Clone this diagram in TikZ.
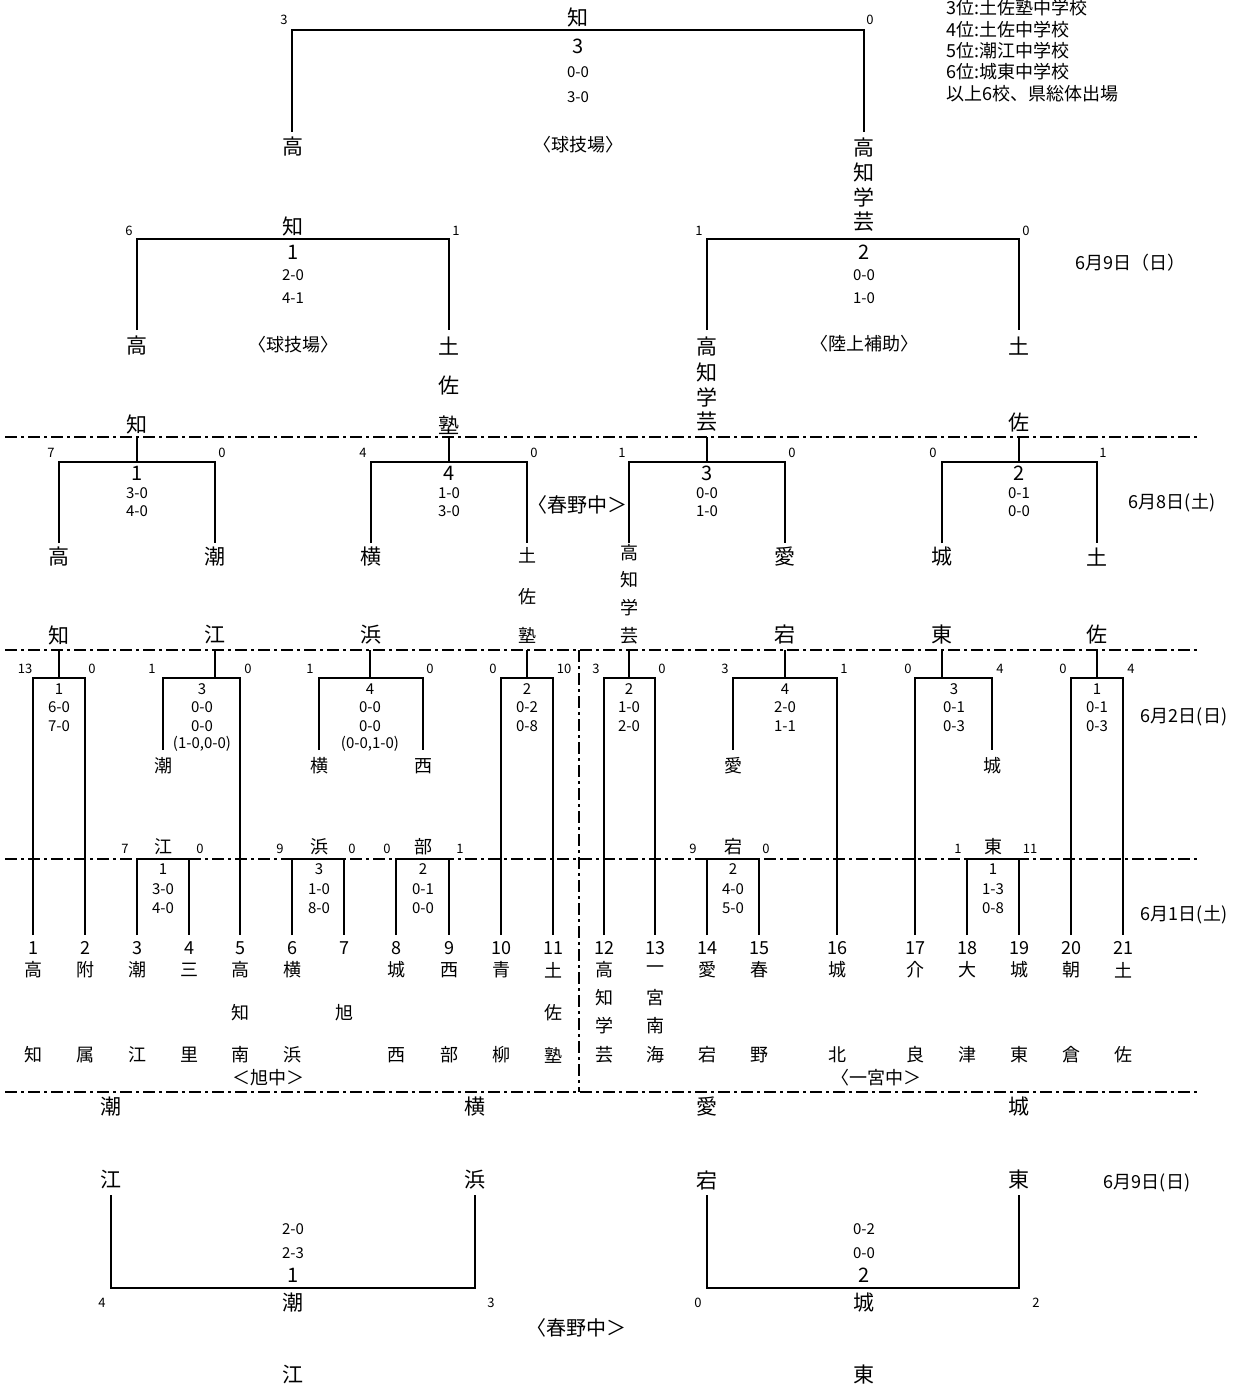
\documentclass[tikz,border=0pt]{standalone}
\usepackage{fontspec}
\setmainfont{Noto Sans CJK JP}
\newcounter{nn}
\newcommand\T[4][]{\stepcounter{nn}\node[#1] (n\thenn) at (#2,#3) {#4};}
\begin{document}
\begin{tikzpicture}[x=1pt,y=-1pt,
  every node/.style={inner sep=0pt},
  fBig/.style={font=\fontsize{21}{21}\selectfont},
  fMid/.style={font=\fontsize{18}{18}\selectfont},
  fSeed/.style={font=\fontsize{13}{13}\selectfont},
  fScore/.style={font=\fontsize{15}{15}\selectfont},
  fNum/.style={font=\fontsize{20}{20}\selectfont},
  fDate/.style={font=\fontsize{18}{18}\selectfont},
  fLeg/.style={font=\fontsize{18}{18}\selectfont,anchor=west},
  br/.style={line width=2.3pt},
  dd/.style={line width=2pt,dash pattern=on 12pt off 4pt on 3pt off 4pt}]
\useasboundingbox (0,0) rectangle (1252,1386);
% ---------- dashed separators ----------
\draw[dd] (5,437) -- (1200,437);
\draw[dd] (5,650) -- (1200,650);
\draw[dd] (5,859) -- (1200,859);
\draw[dd] (5,1092) -- (1200,1092);
\draw[dd] (579,650) -- (579,1092);
% ---------- final ----------
\draw[br] (292,132) -- (292,30) -- (864,30) -- (864,132);
\T[fSeed]{284}{20}{3} \T[fSeed]{870}{20}{0}
\T[fBig]{578}{17}{知}
\T[fNum]{578}{46}{3}
\T[fScore]{578}{72}{0-0} \T[fScore]{578}{97}{3-0}
\T[fBig]{293}{147}{高}
\T[fMid]{578}{145}{〈球技場〉}
\T[fBig]{864}{148}{高} \T[fBig]{864}{172}{知} \T[fBig]{864}{197}{学} \T[fBig]{864}{222}{芸}
% legend
\T[fLeg]{946}{8}{3位:土佐塾中学校}
\T[fLeg]{946}{30}{4位:土佐中学校}
\T[fLeg]{946}{51}{5位:潮江中学校}
\T[fLeg]{946}{72}{6位:城東中学校}
\T[fLeg]{946}{94}{以上6校、県総体出場}
% ---------- semifinals ----------
\draw[br] (137,330) -- (137,239) -- (449,239) -- (449,330);
\draw[br] (707,330) -- (707,239) -- (1019,239) -- (1019,330);
\T[fSeed]{129}{231}{6} \T[fSeed]{456}{231}{1}
\T[fSeed]{699}{231}{1} \T[fSeed]{1026}{231}{0}
\T[fBig]{293}{226}{知}
\T[fNum]{293}{252}{1} \T[fScore]{293}{275}{2-0} \T[fScore]{293}{298}{4-1}
\T[fNum]{864}{252}{2} \T[fScore]{864}{275}{0-0} \T[fScore]{864}{298}{1-0}
\T[fMid]{293}{345}{〈球技場〉}
\T[fMid]{864}{344}{〈陸上補助〉}
\T[fBig]{137}{346}{高} \T[fBig]{137}{424}{知}
\T[fBig]{449}{346}{土} \T[fBig]{449}{386}{佐} \T[fBig]{449}{425}{塾}
\T[fBig]{707}{347}{高} \T[fBig]{707}{372}{知} \T[fBig]{707}{397}{学} \T[fBig]{707}{422}{芸}
\T[fBig]{1019}{346}{土} \T[fBig]{1019}{423}{佐}
\T[fDate]{1130}{263}{6月9日（日）}
% ---------- quarterfinals (6/8) ----------
\draw[br] (59,543) -- (59,462) -- (215,462) -- (215,543);  \draw[br] (137,437) -- (137,462);
\draw[br] (371,543) -- (371,462) -- (527,462) -- (527,543); \draw[br] (449,437) -- (449,462);
\draw[br] (629,543) -- (629,462) -- (785,462) -- (785,543); \draw[br] (707,437) -- (707,462);
\draw[br] (942,543) -- (942,462) -- (1097,462) -- (1097,543); \draw[br] (1019,437) -- (1019,462);
\foreach \x/\s in {51/7,222/0,363/4,534/0,622/1,792/0,933/0,1103/1} {\T[fSeed]{\x}{453}{\s}}
\foreach \x/\s/\a/\b in {137/1/3-0/4-0,449/4/1-0/3-0,707/3/0-0/1-0,1019/2/0-1/0-0}
  {\T[fNum]{\x}{473}{\s} \T[fScore]{\x}{493}{\a} \T[fScore]{\x}{511}{\b}}
\T[fNum]{577}{505}{〈春野中＞}
\foreach \x/\a/\b in {59/高/知,215/潮/江,371/横/浜,785/愛/宕,942/城/東,1097/土/佐}
  {\T[fBig]{\x}{557}{\a} \T[fBig]{\x}{635}{\b}}
\T[fMid]{527}{555}{土} \T[fMid]{527}{597}{佐} \T[fMid]{527}{635}{塾}
\T[fMid]{629}{553}{高} \T[fMid]{629}{580}{知} \T[fMid]{629}{608}{学} \T[fMid]{629}{636}{芸}
\T[fDate]{1172}{503}{6月8日(土)}
% ---------- round 2 (6/2) ----------
\draw[br] (33,935) -- (33,678) -- (85,678) -- (85,935);      \draw[br] (59,650) -- (59,678);
\draw[br] (163,750) -- (163,678) -- (240,678) -- (240,935);  \draw[br] (215,650) -- (215,678);
\draw[br] (319,750) -- (319,678) -- (423,678) -- (423,750);  \draw[br] (370,650) -- (370,678);
\draw[br] (501,935) -- (501,678) -- (553,678) -- (553,935);  \draw[br] (527,650) -- (527,678);
\draw[br] (604,935) -- (604,678) -- (655,678) -- (655,935);  \draw[br] (629,650) -- (629,678);
\draw[br] (733,750) -- (733,678) -- (837,678) -- (837,935);  \draw[br] (785,650) -- (785,678);
\draw[br] (915,935) -- (915,678) -- (992,678) -- (992,750);  \draw[br] (942,650) -- (942,678);
\draw[br] (1071,935) -- (1071,678) -- (1123,678) -- (1123,935); \draw[br] (1097,650) -- (1097,678);
\foreach \x/\s in {25/13,92/0,152/1,248/0,310/1,430/0,493/0,564/10,596/3,662/0,725/3,844/1,908/0,1000/4,1063/0,1131/4} {\T[fSeed]{\x}{669}{\s}}
\foreach \x/\s/\a/\b in {59/1/6-0/7-0,202/3/0-0/0-0,370/4/0-0/0-0,527/2/0-2/0-8,629/2/1-0/2-0,785/4/2-0/1-1,954/3/0-1/0-3,1097/1/0-1/0-3}
  {\T[fScore]{\x}{689}{\s} \T[fScore]{\x}{707}{\a} \T[fScore]{\x}{726}{\b}}
\T[fScore]{202}{744}{(1-0,0-0)}
\T[fScore]{370}{744}{(0-0,1-0)}
\foreach \x/\a in {163/潮,319/横,423/西,733/愛,992/城} {\T[fMid]{\x}{766}{\a}}
\T[fDate]{1184}{717}{6月2日(日)}
% ---------- round 1 (6/1) ----------
\draw[br] (137,935) -- (137,859) -- (189,859) -- (189,935);
\draw[br] (292,935) -- (292,859) -- (344,859) -- (344,935);
\draw[br] (396,935) -- (396,859) -- (449,859) -- (449,935);
\draw[br] (707,935) -- (707,859) -- (759,859) -- (759,935);
\draw[br] (967,935) -- (967,859) -- (1019,859) -- (1019,935);
\foreach \x/\s in {125/7,200/0,280/9,352/0,387/0,460/1,693/9,766/0,958/1,1030/11} {\T[fSeed]{\x}{849}{\s}}
\foreach \x/\w/\s/\a/\b in {163/江/1/3-0/4-0,319/浜/3/1-0/8-0,423/部/2/0-1/0-0,733/宕/2/4-0/5-0,993/東/1/1-3/0-8}
  {\T[fMid]{\x}{847}{\w} \T[fScore]{\x}{869}{\s} \T[fScore]{\x}{889}{\a} \T[fScore]{\x}{908}{\b}}
\T[fDate]{1184}{915}{6月1日(土)}
% team numbers
\foreach \x/\n in {33/1,85/2,137/3,189/4,240/5,292/6,344/7,396/8,449/9,501/10,553/11,604/12,655/13,707/14,759/15,837/16,915/17,967/18,1019/19,1071/20,1123/21}
  {\T[fMid]{\x}{948}{\n}}
% team names
\foreach \x/\a/\b in {33/高/知,85/附/属,137/潮/江,189/三/里,292/横/浜,396/城/西,449/西/部,501/青/柳,707/愛/宕,759/春/野,837/城/北,915/介/良,967/大/津,1019/城/東,1071/朝/倉,1123/土/佐}
  {\T[fMid]{\x}{970}{\a} \T[fMid]{\x}{1055}{\b}}
\T[fMid]{240}{970}{高} \T[fMid]{240}{1013}{知} \T[fMid]{240}{1055}{南}
\T[fMid]{344}{1013}{旭}
\T[fMid]{553}{970}{土} \T[fMid]{553}{1013}{佐} \T[fMid]{553}{1055}{塾}
\T[fMid]{604}{970}{高} \T[fMid]{604}{998}{知} \T[fMid]{604}{1026}{学} \T[fMid]{604}{1055}{芸}
\T[fMid]{655}{970}{一} \T[fMid]{655}{998}{宮} \T[fMid]{655}{1026}{南} \T[fMid]{655}{1055}{海}
\T[fMid]{268}{1078}{＜旭中＞}
\T[fMid]{876}{1078}{〈一宮中＞}
% ---------- 5th place (6/9) ----------
\draw[br] (111,1195) -- (111,1288) -- (475,1288) -- (475,1195);
\draw[br] (707,1195) -- (707,1288) -- (1019,1288) -- (1019,1195);
\T[fBig]{111}{1107}{潮} \T[fBig]{111}{1180}{江}
\T[fBig]{475}{1107}{横} \T[fBig]{475}{1180}{浜}
\T[fBig]{707}{1107}{愛} \T[fBig]{707}{1180}{宕}
\T[fBig]{1019}{1107}{城} \T[fBig]{1019}{1180}{東}
\T[fScore]{293}{1229}{2-0} \T[fScore]{293}{1253}{2-3} \T[fNum]{293}{1275}{1}
\T[fBig]{293}{1303}{潮} \T[fBig]{293}{1375}{江}
\T[fSeed]{102}{1303}{4} \T[fSeed]{491}{1303}{3}
\T[fScore]{864}{1229}{0-2} \T[fScore]{864}{1253}{0-0} \T[fNum]{864}{1275}{2}
\T[fBig]{864}{1303}{城} \T[fBig]{864}{1375}{東}
\T[fSeed]{698}{1303}{0} \T[fSeed]{1036}{1303}{2}
\T[fNum]{576}{1328}{〈春野中＞}
\T[fDate]{1147}{1183}{6月9日(日)}
\end{tikzpicture}
\end{document}
